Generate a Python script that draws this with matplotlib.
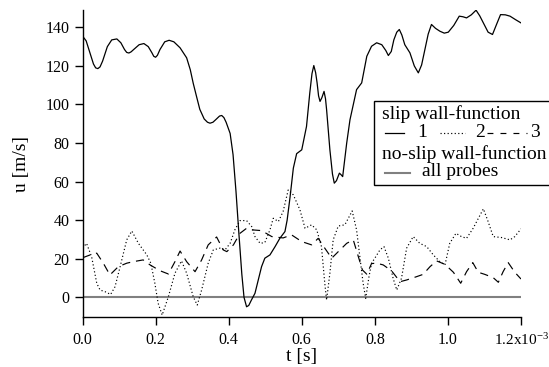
import matplotlib
matplotlib.use("Agg")
import matplotlib.pyplot as plt
from matplotlib.lines import Line2D
from matplotlib.patches import Rectangle

plt.rcParams['font.family'] = ['Liberation Serif', 'DejaVu Serif']
plt.rcParams['mathtext.fontset'] = 'custom'
plt.rcParams['mathtext.rm'] = 'Liberation Serif'
plt.rcParams['mathtext.it'] = 'Liberation Serif:italic'

# ---- data (t in units of 1e-3 s, u in m/s) ----
t1 = [0.000, 0.010, 0.020, 0.030, 0.036, 0.042, 0.048, 0.055, 0.068, 0.080, 0.094, 0.105, 0.115,
      0.121, 0.127, 0.133, 0.140, 0.155, 0.168, 0.180, 0.190, 0.195, 0.200, 0.205, 0.212, 0.225,
      0.237, 0.250, 0.267, 0.285,
      0.295, 0.303, 0.312, 0.321, 0.333, 0.342, 0.349, 0.357, 0.365, 0.375, 0.381, 0.387, 0.393,
      0.404, 0.412, 0.420,
      0.428, 0.436, 0.442, 0.449, 0.455, 0.462, 0.472, 0.490, 0.499, 0.513, 0.527, 0.540, 0.554,
      0.560, 0.568, 0.577, 0.586, 0.600, 0.613, 0.622, 0.628, 0.633, 0.638, 0.642, 0.646, 0.650,
      0.655, 0.661, 0.665, 0.668,
      0.677, 0.684, 0.689, 0.695, 0.703, 0.708, 0.712, 0.723, 0.732, 0.750, 0.764, 0.778, 0.791,
      0.805, 0.819, 0.830, 0.837, 0.845, 0.852, 0.860, 0.867, 0.874, 0.882, 0.896, 0.908, 0.919,
      0.928, 0.937, 0.946, 0.955, 0.966, 0.978, 0.990, 1.001, 1.016, 1.031,
      1.041, 1.051, 1.064, 1.077, 1.087, 1.097, 1.110, 1.122, 1.133, 1.144, 1.157, 1.170, 1.185,
      1.200]
u1 = [135.5, 133.0, 127.0, 121.0, 119.0, 118.6, 119.5, 122.5, 130.0, 133.5, 134.0, 132.0, 128.5,
      127.0, 126.7, 127.3, 128.5, 131.0, 131.6, 130.0, 126.8, 125.0, 124.5, 125.5, 128.5, 132.5,
      133.3, 132.5, 129.4, 124.2,
      118.0, 111.0, 104.2, 97.5, 92.5, 90.8, 90.3, 90.8, 92.2, 94.0, 94.3, 93.2, 90.8,
      85.0, 74.0, 55.0,
      33.0, 12.0, 0.0, -4.9, -4.2, -1.5, 2.1, 15.9, 20.3, 22.0, 26.3, 30.6, 34.1,
      40.0, 52.0, 67.0, 74.5, 76.5, 88.6, 106.0, 116.0, 120.2, 116.5, 111.2, 104.5, 101.6,
      103.5, 106.8, 103.0, 97.3,
      76.5, 64.0, 59.2, 60.5, 64.4, 63.5, 62.6, 80.0, 92.1, 107.7, 111.2, 125.0, 130.2,
      132.0, 131.0, 128.0, 125.4, 127.5, 133.5, 137.5, 138.9, 136.0, 131.0, 126.8, 120.0, 116.4,
      120.5, 128.5, 136.5, 141.5, 139.5, 138.0, 137.0, 137.5, 141.0, 145.8,
      145.5, 144.9, 146.5, 148.9, 146.0, 142.3, 137.5, 136.3, 141.5, 146.6, 146.5, 145.8, 144.0,
      142.3]

t2 = [0.000, 0.011, 0.025, 0.039, 0.048, 0.062, 0.077, 0.089, 0.103, 0.121, 0.135, 0.153,
      0.176, 0.187, 0.198, 0.207, 0.218, 0.235, 0.253, 0.271, 0.285, 0.303, 0.314, 0.326,
      0.344, 0.358, 0.376, 0.390, 0.404, 0.417, 0.431, 0.449, 0.463, 0.472, 0.486, 0.499,
      0.513, 0.522, 0.536, 0.549, 0.563, 0.577, 0.595, 0.609, 0.627, 0.641, 0.654, 0.663,
      0.668, 0.677, 0.686, 0.700, 0.718, 0.738, 0.750, 0.759, 0.768, 0.775, 0.784, 0.791,
      0.800, 0.814, 0.825, 0.837, 0.850, 0.860, 0.873, 0.887, 0.905, 0.923, 0.942, 0.960,
      0.978, 0.992, 1.005, 1.022, 1.037, 1.051, 1.069, 1.097, 1.110, 1.124, 1.147, 1.170,
      1.183, 1.200]
u2 = [25.5, 28.0, 21.0, 7.3, 3.8, 2.9, 1.5, 5.5, 15.9, 29.8, 34.4, 28.0,
      22.0, 17.7, 7.3, -3.1, -9.2, 0.3, 12.5, 18.9, 12.5, 0.3, -4.0, 3.8,
      17.7, 24.6, 25.5, 24.6, 28.0, 35.0, 39.8, 39.8, 36.7, 31.5, 28.0, 28.4,
      35.0, 41.0, 39.3, 44.5, 55.7, 53.1, 45.4, 35.8, 37.6, 35.0, 26.3, 7.3,
      -1.4, 12.5, 29.8, 37.0, 37.6, 44.8, 35.0, 21.0, 7.3, -0.5, 10.7, 17.7,
      20.3, 24.6, 26.3, 20.3, 9.9, 3.8, 9.9, 25.5, 31.5, 28.0, 26.3, 22.0,
      18.5, 16.8, 28.0, 33.2, 31.5, 30.6, 35.8, 45.9, 39.3, 31.5, 31.0, 29.8,
      31.5, 35.5]

t3 = [0.000, 0.021, 0.039, 0.057, 0.075, 0.098, 0.121, 0.139, 0.166, 0.185, 0.212, 0.235,
      0.253, 0.267, 0.285, 0.308, 0.326, 0.344, 0.367, 0.385, 0.395, 0.413, 0.431, 0.449,
      0.463, 0.490, 0.518, 0.549, 0.572, 0.600, 0.627, 0.645, 0.663, 0.682, 0.700, 0.723,
      0.741, 0.755, 0.766, 0.778, 0.791, 0.805, 0.823, 0.846, 0.869, 0.887, 0.914, 0.932,
      0.951, 0.969, 0.992, 1.015, 1.035, 1.051, 1.068, 1.083, 1.101, 1.124, 1.138, 1.151,
      1.165, 1.183, 1.200]
u3 = [20.5, 22.0, 22.9, 17.7, 11.6, 15.9, 17.7, 18.5, 19.4, 16.8, 13.8, 12.1,
      18.5, 24.0, 18.5, 13.3, 19.4, 27.2, 31.3, 24.6, 23.7, 27.2, 33.2, 35.8,
      35.0, 34.6, 31.5, 30.8, 32.4, 28.9, 27.2, 30.6, 25.5, 20.3, 23.7, 28.0,
      29.8, 21.0, 14.2, 12.0, 17.5, 17.7, 16.8, 13.7, 8.1, 9.0, 10.7, 11.9,
      15.9, 18.9, 17.1, 13.0, 7.3, 13.3, 18.0, 13.0, 11.9, 10.2, 7.8, 13.3,
      18.0, 13.0, 9.5]

t_noslip = [0.0, 1.2]
u_noslip = [0.0, 0.0]

xticks = [0.0, 0.2, 0.4, 0.6, 0.8, 1.0, 1.2]
xticklabels = ['0.0', '0.2', '0.4', '0.6', '0.8', '1.0', r'1.2x10$^{\mathrm{-3}}$']
yticks = [0, 20, 40, 60, 80, 100, 120, 140]

W, H = 549, 367
fig = plt.figure(figsize=(W / 100, H / 100), dpi=100)
ax = fig.add_axes([82.5 / W, 1 - 317 / H, 438.5 / W, 307 / H])

ax.plot(t_noslip, u_noslip, color='#808080', lw=1.5, solid_capstyle='butt')
ax.plot(t3, u3, color='black', lw=0.85, linestyle=(0, (7, 5)))
ax.plot(t2, u2, color='black', lw=0.85, linestyle=(0, (1, 2)))
ax.plot(t1, u1, color='black', lw=0.9)

ax.set_xlim(0, 1.2)
ax.set_ylim(-10.2, 149.0)
ax.set_xticks(xticks)
ax.set_xticklabels(xticklabels)
ax.set_yticks(yticks)
for s in ['top', 'right']:
    ax.spines[s].set_visible(False)
for s in ['left', 'bottom']:
    ax.spines[s].set_linewidth(1.0)
ax.tick_params(axis='y', direction='out', length=5.5, width=1.0, pad=4, labelsize=11.5)
ax.tick_params(axis='x', direction='out', length=6, width=1.0, pad=5, labelsize=11.5)
ax.get_xticklabels()[-1].set_fontsize(11)
ax.set_ylabel('u [m/s]', fontsize=14, labelpad=11)
ax.set_xlabel('t [s]', fontsize=14, labelpad=0)

# ---- legend drawn manually (pixel coordinates converted to figure fraction) ----
def fx(px):
    return px / W

def fy(py):
    return 1 - py / H

tf = fig.transFigure
fig.patches.append(Rectangle((fx(374), fy(185.3)), fx(200), (185.3 - 101) / H,
                             transform=tf, fill=True, facecolor='white',
                             edgecolor='black', lw=1.0, clip_on=False))
fs = 14
fig.text(fx(382.5), fy(114.5), 'slip wall-function', fontsize=fs, va='center', ha='left')
fig.lines.append(Line2D([fx(385), fx(403.5)], [fy(133.3)] * 2, transform=tf, color='black', lw=0.9))
fig.text(fx(422.5), fy(132.7), '1', fontsize=fs, va='center', ha='center')
fig.lines.append(Line2D([fx(440), fx(465)], [fy(133.3)] * 2, transform=tf, color='black', lw=0.85,
                        linestyle=(0, (1, 2))))
fig.text(fx(480), fy(132.7), '2', fontsize=fs, va='center', ha='center')
fig.lines.append(Line2D([fx(487), fx(527)], [fy(133.3)] * 2, transform=tf, color='black', lw=0.85,
                        linestyle=(0, (5, 6))))
fig.text(fx(534.5), fy(132.7), '3', fontsize=fs, va='center', ha='center')
fig.text(fx(382.5), fy(154.5), 'no-slip wall-function', fontsize=fs, va='center', ha='left')
fig.lines.append(Line2D([fx(385), fx(410)], [fy(173.3)] * 2, transform=tf, color='#808080', lw=1.5))
fig.text(fx(421.5), fy(172), 'all probes', fontsize=fs, va='center', ha='left')

fig.savefig('out.png', dpi=100)
